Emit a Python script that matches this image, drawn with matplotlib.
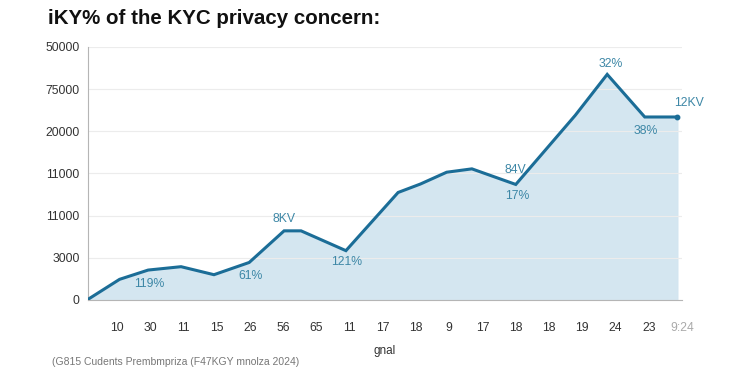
#import libraries
import matplotlib
matplotlib.use('Agg')
import matplotlib.pyplot as plt
import numpy as np

# data (x in tick positions, y in gridline steps)
x_vals = [0.14, 1.08, 1.94, 2.93, 3.92, 4.98, 6.03, 6.54, 7.89, 9.46, 10.13,
          10.92, 11.68, 13.00, 14.79, 15.75, 16.88, 17.86]
y_vals = [0.02, 0.49, 0.71, 0.79, 0.60, 0.89, 1.64, 1.64, 1.17, 2.55, 2.75,
          3.03, 3.11, 2.74, 4.38, 5.35, 4.34, 4.34]

x_labels = ['10', '30', '11', '15', '26', '56', '65', '11', '17', '18', '9',
            '17', '18', '18', '19', '24', '23', '9:24']
y_labels = ['0', '3000', '11000', '11000', '20000', '75000', '50000']

# annotations: text, x, y (same units as the data)
notes_text = ['119%', '61%', '8KV', '121%', '84V', '17%', '32%', '38%', '12KV']
notes_x = [1.99, 5.03, 6.04, 7.9, 13.0, 13.05, 15.85, 16.9, 18.2]
notes_y = [0.39, 0.57, 1.93, 0.89, 3.08, 2.47, 5.6, 4.0, 4.67]

line_color = '#1b6d97'
fill_color = '#d2e5f0'
note_color = '#3d87a6'

plt.rcParams['font.family'] = ['Liberation Sans', 'DejaVu Sans']

fig = plt.figure(figsize=(7.5, 3.75), dpi=100)
ax = fig.add_axes([0.1173, 0.2, 0.7920, 0.6747])

# area + line
ax.fill_between(x_vals, y_vals, 0, color=fill_color, alpha=0.95, zorder=1)
ax.plot(x_vals, y_vals, color=line_color, linewidth=2.2, zorder=3,
        solid_joinstyle='miter')
ax.plot(x_vals[-1], y_vals[-1], 'o', color=line_color, markersize=3.2, zorder=4)

# labels on the line
for t, xx, yy in zip(notes_text, notes_x, notes_y):
    ax.text(xx, yy, t, color=note_color, fontsize=8.8, ha='center', va='center', zorder=5)

ax.set_xlim(0.13, 17.97)
ax.set_ylim(0, 6)
ax.set_xticks(np.arange(1, len(x_labels) + 1))
ax.set_xticklabels(x_labels)
ax.set_yticks(np.arange(len(y_labels)))
ax.set_yticklabels(y_labels)
ax.tick_params(axis='both', length=0, labelsize=8.7, colors='#333333')
ax.tick_params(axis='x', pad=16)
ax.tick_params(axis='y', pad=6)
ax.get_xticklabels()[-1].set_color('#aaaaaa')

ax.grid(axis='y', color='#ececec', linewidth=0.8, zorder=0)
for s in ['top', 'right']:
    ax.spines[s].set_visible(False)
ax.spines['left'].set_color('#b5b5b5')
ax.spines['bottom'].set_color('#b5b5b5')

ax.set_xlabel('gnal', fontsize=8.5, color='#333333', labelpad=8)

fig.text(0.064, 0.952, 'iKY% of the KYC privacy concern:', fontsize=14.8,
         fontweight='bold', color='#111111', va='center', ha='left')
fig.text(0.069, 0.035, '(G815 Cudents Prembmpriza (F47KGY mnolza 2024)',
         fontsize=7.5, color='#777777', va='center', ha='left')

fig.savefig('out.png', dpi=100, facecolor='white')
